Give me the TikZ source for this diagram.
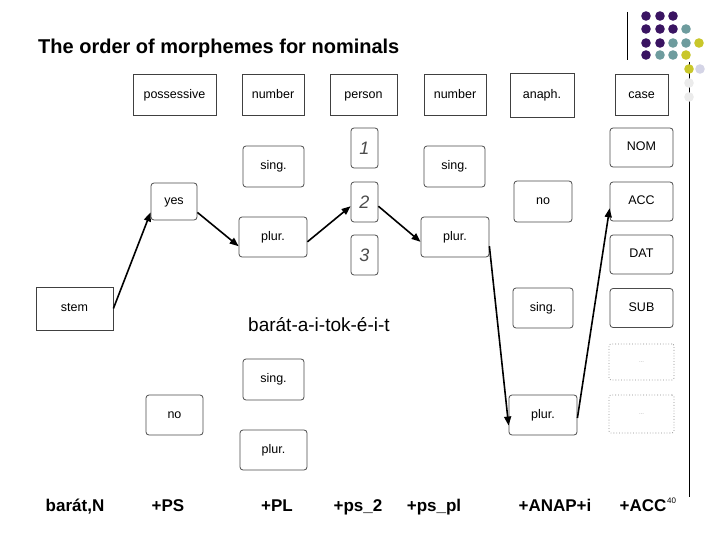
\documentclass[tikz,border=0pt]{standalone}
\usepackage{fontspec}
\setmainfont{Liberation Sans}
\usetikzlibrary{arrows.meta}
\definecolor{dotpurple}{HTML}{3A1462}
\definecolor{dotteal}{HTML}{6E9C9E}
\definecolor{dotyellow}{HTML}{C9C72A}
\definecolor{dotlilac}{HTML}{D4D4E6}
\begin{document}
\begin{tikzpicture}[x=1pt,y=-1pt,
  wh/.style 2 args={minimum width=#1,minimum height=#2},
  head/.style={draw=black!75,line width=0.8pt,inner sep=0pt,text height=8.8pt,text depth=2.6pt,
    font=\fontsize{12.5}{12.5}\selectfont},
  val/.style={head,rounded corners=3pt,draw=black!70},
  digit/.style={val,text height=13pt,text depth=0pt,font=\fontsize{18}{18}\selectfont\itshape,text=black!70},
  blank/.style={draw=black!45,dotted,line width=0.8pt,rounded corners=2pt,inner sep=0pt,
    text=black!35,font=\fontsize{6}{6}\selectfont},
  gloss/.style={anchor=base,font=\fontsize{17}{17}\selectfont\bfseries},
  link/.style={-{Triangle[length=9pt,width=7pt]},line width=1.6pt}]
\useasboundingbox (0,0) rectangle (720,540);
\fill[white] (0,0) rectangle (720,540);
\draw[line width=1pt] (627,12) -- (627,60);
\draw[line width=1pt] (689,62) -- (689,497);
\fill[dotpurple] (646,16) circle[radius=4.8pt];
\fill[dotpurple] (660,16) circle[radius=4.8pt];
\fill[dotpurple] (673,16) circle[radius=4.8pt];
\fill[dotpurple] (646,29) circle[radius=4.8pt];
\fill[dotpurple] (660,29) circle[radius=4.8pt];
\fill[dotpurple] (673,29) circle[radius=4.8pt];
\fill[dotteal]   (686,29) circle[radius=4.8pt];
\fill[dotpurple] (646,43) circle[radius=4.8pt];
\fill[dotpurple] (660,43) circle[radius=4.8pt];
\fill[dotteal]   (673,43) circle[radius=4.8pt];
\fill[dotteal]   (686,43) circle[radius=4.8pt];
\fill[dotyellow] (699,43) circle[radius=4.8pt];
\fill[dotpurple] (646,55) circle[radius=4.8pt];
\fill[dotteal]   (660,55) circle[radius=4.8pt];
\fill[dotteal]   (673,55) circle[radius=4.8pt];
\fill[dotyellow] (686,55) circle[radius=4.8pt];
\fill[dotyellow] (689,69) circle[radius=4.8pt];
\fill[dotlilac]  (700,69) circle[radius=4.8pt];
\fill[black!8]   (689,83) circle[radius=4.8pt];
\fill[black!8]   (689,97) circle[radius=4.8pt];

\node[font=\fontsize{20}{20}\selectfont\bfseries,anchor=west,inner sep=0pt] (title) at (38,48)
  {The order of morphemes for nominals};

\node[head,wh={83}{41}] (poss)   at (174.5,95)  {possessive};
\node[head,wh={62}{41}] (numa)   at (273,95)    {number};
\node[head,wh={67}{41}] (pers)   at (363.5,95)  {person};
\node[head,wh={62}{41}] (numb)   at (455,95)    {number};
\node[head,wh={64}{44}] (anaph)  at (542,95)    {anaph.};
\node[head,wh={53}{41}] (case)   at (641.5,95)  {case};
\node[head,wh={77}{43}] (stem)   at (74.5,308.5) {stem};

\node[val,wh={46}{37}] (yes)     at (174,201.5) {yes};
\node[val,wh={57}{40}] (nops)    at (174.5,415) {no};
\node[val,wh={61}{41}] (singa)   at (273.5,166.5) {sing.};
\node[val,wh={68}{40}] (plura)   at (273,237)   {plur.};
\node[val,wh={61}{41}] (singc)   at (273.5,379.5) {sing.};
\node[val,wh={67}{40}] (plurc)   at (273.5,450) {plur.};
\node[digit,wh={27}{40}] (one)   at (364.5,148) {1};
\node[digit,wh={27}{40}] (two)   at (364.5,202) {2};
\node[digit,wh={27}{40}] (three) at (364.5,255) {3};
\node[val,wh={61}{41}] (singb)   at (454.5,166.5) {sing.};
\node[val,wh={68}{40}] (plurb)   at (455,237)   {plur.};
\node[val,wh={58}{41}] (noan)    at (543,201.5) {no};
\node[val,wh={60}{40}] (singan)  at (543,308)   {sing.};
\node[val,wh={68}{40}] (pluran)  at (543,415)   {plur.};
\node[val,wh={63}{39}] (nom)     at (641.5,147.5) {NOM};
\node[val,wh={63}{39}] (acc)     at (641.5,201.5) {ACC};
\node[val,wh={63}{39}] (dat)     at (641.5,254.5) {DAT};
\node[val,wh={63}{39}] (sub)     at (641.5,308)   {SUB};
\node[blank,wh={65}{36}] (etca)  at (641.5,362)   {...};
\node[blank,wh={65}{38}] (etcb)  at (641.5,414)   {...};

\node[font=\fontsize{19}{19}\selectfont,anchor=west,inner sep=0pt] (form) at (248,325) {barát-a-i-tok-é-i-t};

\draw[link] (stem.east)   -- (yes.205);
\draw[link] (yes.-25)     -- (plura.195);
\draw[link] (plura.-8)    -- (two.197);
\draw[link] (two.-17)     -- (plurb.188);
\draw[link] (plurb.-15)   -- (pluran.197);
\draw[link] (pluran.-5)   -- (acc.192);

\node[gloss] (gstem) at (75,511)  {barát,N};
\node[gloss] (gps)   at (168,511) {+PS};
\node[gloss] (gpl)   at (277,511) {+PL};
\node[gloss] (gpsb)  at (358,511) {+ps\_2};
\node[gloss] (gpspl) at (434,511) {+ps\_pl};
\node[gloss] (ganap) at (555,511) {+ANAP+i};
\node[gloss] (gacc)  at (643,511) {+ACC};
\node[font=\fontsize{8}{8}\selectfont,anchor=west,inner sep=0pt] (page) at (667,501) {40};
\end{tikzpicture}
\end{document}
